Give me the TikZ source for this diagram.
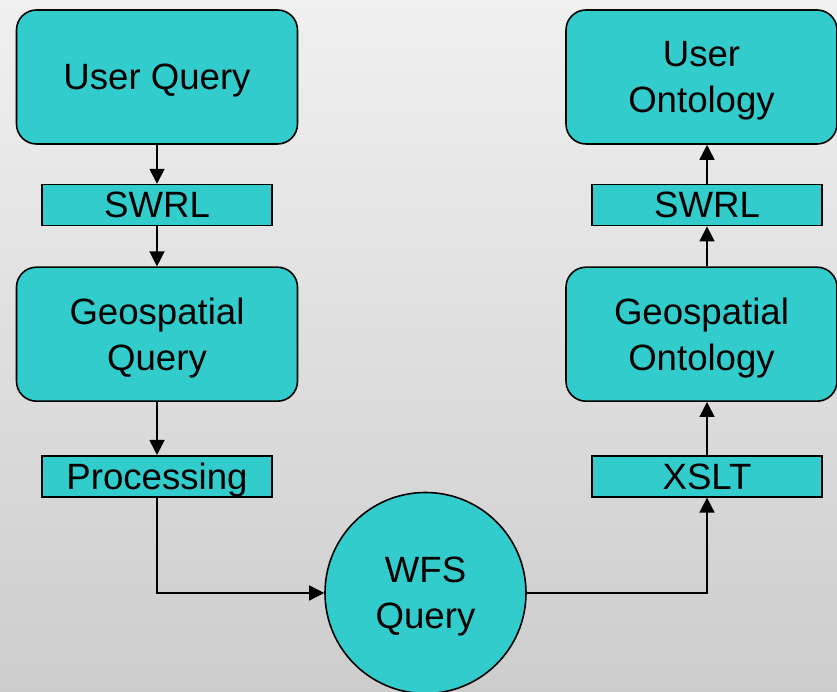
\documentclass[tikz,border=0pt]{standalone}
\usepackage{fontspec}
\setmainfont{Liberation Sans}
\usetikzlibrary{positioning,arrows.meta}

\definecolor{boxfill}{RGB}{51,204,204}
\definecolor{bgtop}{RGB}{240,240,240}
\definecolor{bgbottom}{RGB}{205,205,205}

\begin{document}
\begin{tikzpicture}[x=1pt,y=1pt,font=\fontsize{36.6}{46}\selectfont]
\tikzstyle{bigbox}=[draw,fill=boxfill,line width=1.6pt,rounded corners=20pt,minimum width=281pt,minimum height=134pt,align=center,inner sep=0pt,text depth=0pt]
\tikzstyle{tag}=[draw,fill=boxfill,line width=1.6pt,minimum width=230pt,minimum height=41pt,inner sep=0pt,text depth=0pt]
\tikzstyle{wfsnode}=[draw,fill=boxfill,line width=1.6pt,circle,minimum size=201pt,align=center,inner sep=0pt,text depth=0pt]
\tikzstyle{arr}=[line width=1.6pt,-{Triangle[length=15pt,width=15pt]}]

\useasboundingbox (0,0) rectangle (837,692);
\shade[top color=bgtop,bottom color=bgbottom] (0,0) rectangle (837,692);

% left column
\node [bigbox] (uq) at (157,615) {User Query};
\node [tag,below=39pt of uq] (swrlL) {SWRL};
\node [bigbox,below=40pt of swrlL] (gq) {Geospatial\\Query};
\node [tag,below=53pt of gq] (proc) {Processing};

% middle
\node [wfsnode] (wfs) at (425.5,99) {WFS\\Query};

% right column
\node [bigbox,minimum width=271pt] (uo) at (701.5,615) {User\\Ontology};
\node [tag,below=39pt of uo,xshift=5.5pt] (swrlR) {SWRL};
\node [bigbox,minimum width=271pt,below=40pt of swrlR,xshift=-5.5pt] (go) {Geospatial\\Ontology};
\node [tag,below=53pt of go,xshift=5.5pt] (xslt) {XSLT};

\draw[arr] (uq) -- (swrlL);
\draw[arr] (swrlL) -- (gq);
\draw[arr] (gq) -- (proc);
\draw[arr] (proc.south) |- (wfs.west);

\draw[arr] (wfs.east) -| (xslt.south);
\draw[arr] (xslt.north) -- (xslt.north |- go.south);
\draw[arr] (swrlR.south |- go.north) -- (swrlR.south);
\draw[arr] (swrlR.north) -- (swrlR.north |- uo.south);

\end{tikzpicture}
\end{document}
